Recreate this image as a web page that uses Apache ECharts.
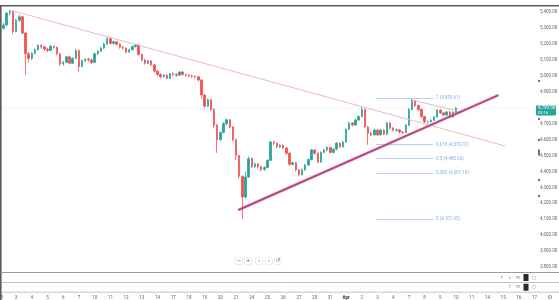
<!DOCTYPE html>
<html>
<head>
<meta charset="utf-8">
<style>
  html, body { margin: 0; padding: 0; background: #fff; }
  #chart { width: 559px; height: 300px; }
</style>
<script src="https://cdn.jsdelivr.net/npm/echarts@6/dist/echarts.min.js"></script>
</head>
<body>
<div id="chart"></div>
<script>
// time scale: one label per trading day (first one sits half off the left edge)
var days = ['28', '3', '4', '5', '6', '7', '10', '11', '12', '13', '14', '17', '18', '19', '20', '21',
  '24', '25', '26', '27', '28', '31', 'Apr', '2', '3', '4', '7', '8', '9', '10', '11', '14', '15', '16', '17']
var barsPerDay = 5
var hiddenBars = 1 // first bar of the first day is off screen
var totalBars = 169

// [open, close, low, high]
var candles = [
  [5300, 5320, 5290, 5335], [5320, 5395, 5315, 5400], [5395, 5405, 5380, 5416], [5405, 5280, 5265, 5410],
  [5280, 5350, 5275, 5358], [5350, 5372, 5340, 5385], [5372, 5270, 5262, 5378], [5270, 5140, 5005, 5275],
  [5140, 5110, 5085, 5150], [5110, 5142, 5100, 5150], [5142, 5165, 5135, 5175], [5165, 5192, 5160, 5200],
  [5192, 5183, 5170, 5200], [5183, 5168, 5160, 5190], [5168, 5160, 5150, 5178], [5160, 5186, 5155, 5195],
  [5186, 5180, 5170, 5192], [5180, 5140, 5130, 5185], [5140, 5075, 5062, 5145], [5075, 5086, 5065, 5095],
  [5086, 5120, 5080, 5128], [5120, 5080, 5072, 5125], [5080, 5110, 5075, 5118], [5110, 5160, 5105, 5170],
  [5160, 5060, 5025, 5165], [5060, 5095, 5055, 5102], [5095, 5105, 5088, 5112], [5105, 5100, 5090, 5115],
  [5100, 5085, 5075, 5110], [5085, 5140, 5080, 5146], [5140, 5155, 5132, 5162], [5155, 5175, 5150, 5182],
  [5175, 5200, 5170, 5210], [5200, 5235, 5195, 5245], [5235, 5205, 5198, 5240], [5205, 5215, 5196, 5222],
  [5215, 5200, 5192, 5220], [5200, 5180, 5172, 5205], [5180, 5175, 5165, 5188], [5175, 5150, 5142, 5180],
  [5150, 5165, 5145, 5172], [5165, 5185, 5160, 5190], [5185, 5195, 5178, 5202], [5195, 5135, 5128, 5198],
  [5135, 5100, 5092, 5140], [5100, 5080, 5072, 5108], [5080, 5095, 5075, 5102], [5095, 5070, 5062, 5100],
  [5070, 5030, 5022, 5075], [5030, 5010, 5000, 5038], [5010, 4995, 4985, 5016], [4995, 5005, 4990, 5012],
  [5005, 4985, 4978, 5010], [4985, 5015, 4980, 5020], [5015, 5010, 5000, 5022], [5010, 5005, 4995, 5018],
  [5005, 5025, 5000, 5030], [5025, 5010, 5002, 5030], [5010, 5005, 4996, 5015], [5005, 5000, 4992, 5012],
  [5000, 4998, 4988, 5008], [4998, 4995, 4985, 5004], [4995, 4975, 4965, 5000], [4975, 4880, 4860, 4980],
  [4880, 4810, 4800, 4886], [4810, 4850, 4805, 4858], [4850, 4790, 4780, 4855], [4790, 4690, 4672, 4795],
  [4690, 4600, 4517, 4700], [4600, 4645, 4590, 4652], [4645, 4700, 4640, 4710], [4700, 4725, 4690, 4732],
  [4725, 4680, 4672, 4730], [4680, 4600, 4590, 4685], [4600, 4500, 4470, 4605], [4500, 4370, 4355, 4505],
  [4370, 4240, 4101.65, 4375], [4240, 4365, 4230, 4400], [4365, 4480, 4360, 4495], [4480, 4430, 4420, 4490],
  [4430, 4448, 4422, 4455], [4448, 4430, 4420, 4452], [4430, 4412, 4402, 4436], [4412, 4425, 4405, 4432],
  [4425, 4470, 4420, 4478], [4470, 4585, 4465, 4592], [4585, 4578, 4565, 4594], [4578, 4555, 4546, 4582],
  [4555, 4565, 4548, 4572], [4565, 4548, 4540, 4570], [4548, 4515, 4505, 4552], [4515, 4445, 4435, 4520],
  [4445, 4455, 4438, 4462], [4455, 4410, 4400, 4460], [4410, 4380, 4370, 4415], [4380, 4410, 4375, 4418],
  [4410, 4440, 4405, 4448], [4440, 4475, 4435, 4482], [4475, 4535, 4470, 4542], [4535, 4515, 4505, 4540],
  [4515, 4460, 4452, 4520], [4460, 4520, 4455, 4526], [4520, 4535, 4514, 4542], [4535, 4550, 4528, 4558],
  [4550, 4520, 4512, 4555], [4520, 4540, 4515, 4548], [4540, 4578, 4535, 4585], [4578, 4555, 4548, 4582],
  [4555, 4585, 4550, 4592], [4585, 4665, 4580, 4672], [4665, 4705, 4660, 4712], [4705, 4692, 4684, 4710],
  [4692, 4723, 4688, 4730], [4723, 4745, 4718, 4752], [4745, 4790, 4740, 4812], [4790, 4680, 4672, 4795],
  [4680, 4640, 4567, 4686], [4640, 4630, 4620, 4648], [4630, 4660, 4625, 4668], [4660, 4630, 4622, 4665],
  [4630, 4660, 4625, 4668], [4660, 4635, 4628, 4665], [4635, 4705, 4630, 4712], [4705, 4673, 4665, 4710],
  [4673, 4660, 4652, 4678], [4660, 4662, 4650, 4670], [4662, 4648, 4640, 4668], [4648, 4645, 4636, 4655],
  [4645, 4690, 4640, 4698], [4690, 4790, 4685, 4798], [4790, 4845, 4785, 4859.61], [4845, 4815, 4805, 4850],
  [4815, 4790, 4780, 4820], [4790, 4745, 4738, 4795], [4745, 4712, 4705, 4750], [4712, 4712, 4702, 4720],
  [4712, 4722, 4706, 4728], [4722, 4742, 4716, 4748], [4742, 4786, 4738, 4792], [4786, 4768, 4760, 4790],
  [4768, 4755, 4748, 4772], [4755, 4774, 4750, 4780], [4774, 4742, 4735, 4778], [4742, 4772, 4738, 4778],
  [4772, 4799.56, 4768, 4803]
]
var lastPrice = 4799.56
var countdown = '03:16'

// price scale
var priceMin = 3800
var priceMax = 5400
var priceStep = 100

// small black markers sitting on the price scale
var scaleMarks = [4969, 4730, 4598, 4520, 4347, 4246]
var scaleMarkSizes = [2, 2, 2, 6, 2, 2]

// drawings, x in bar index units
var fibLevels = [1, 0.618, 0.5, 0.382, 0]
var fibPrices = [4859.61, 4570.07, 4480.63, 4391.19, 4101.65]
var fibFrom = 118.6
var fibTo = 136.7
var trendDown = [[2.1, 5414], [159.7, 4560]]
var trendUp = [[74.7, 4158], [157.5, 4880]]
var channelTop = [[130.1, 4849], [145.4, 4776]]

var W = 559
var gridLeft = 2
var gridRight = 26
var bw = (W - gridLeft - gridRight) / totalBars

function fmt(v) {
  return v.toLocaleString('en-US', { minimumFractionDigits: 2, maximumFractionDigits: 2 })
}

var categories = []
var seriesData = []
for (var i = 0; i < totalBars; i++) {
  categories.push('b' + i)
  seriesData.push(i < candles.length ? candles[i] : '-')
}

// day d starts at bar (barsPerDay - hiddenBars) + barsPerDay * (d - 1)
var firstDayX = gridLeft + bw * (0.5 + barsPerDay - hiddenBars - barsPerDay)
var lastDay = days.length - 1
var dayAxisMax = lastDay + 1 // one more (hidden under the gear)
var timeLeft = firstDayX
var timeRight = W - (firstDayX + bw * barsPerDay * dayAxisMax)
// the marks sit 6px right of the plot, expressed in bar units
var scaleMarkBar = totalBars - 0.5 + 6 / bw

var font = 'Roboto, "Open Sans", sans-serif'
var chart = echarts.init(document.getElementById('chart'))

function lineSeries(data, color, width) {
  return {
    type: 'line',
    xAxisIndex: 1,
    yAxisIndex: 0,
    data: data,
    showSymbol: false,
    silent: true,
    animation: false,
    clip: false,
    lineStyle: { color: color, width: width },
    z: 5
  }
}

var fibSeries = lineSeries([], '#a9c7f5', 1)
fibSeries.markLine = {
  symbol: 'none',
  silent: true,
  animation: false,
  lineStyle: { color: '#b3cdf5', width: 1, type: 'solid' },
  label: {
    position: 'end',
    distance: 3,
    fontSize: 4.5,
    fontFamily: font,
    color: '#86adec'
  },
  data: fibPrices.map(function (p, k) {
    return [
      { coord: [fibFrom, p] },
      { coord: [fibTo, p], label: { formatter: fibLevels[k] + ' (' + fmt(p) + ')' } }
    ]
  })
}

var upSeries = lineSeries(trendUp, '#b8467f', 2)
upSeries.lineStyle.shadowColor = 'rgba(225, 120, 170, 0.6)'
upSeries.lineStyle.shadowBlur = 2

var option = {
  animation: false,
  backgroundColor: '#fff',
  grid: [
    { left: gridLeft, right: gridRight, top: 12.3, bottom: 33, outerBoundsMode: 'none', containLabel: false },
    { left: timeLeft, right: timeRight, top: 292, height: 1, outerBoundsMode: 'none', containLabel: false }
  ],
  xAxis: [
    {
      type: 'category',
      gridIndex: 0,
      data: categories,
      boundaryGap: true,
      axisLine: { show: false },
      axisTick: { show: false },
      axisLabel: { show: false },
      splitLine: { show: false }
    },
    {
      type: 'value',
      gridIndex: 0,
      min: -0.5,
      max: totalBars - 0.5,
      show: false
    },
    {
      type: 'value',
      gridIndex: 1,
      min: 0,
      max: dayAxisMax,
      interval: 1,
      axisLine: { show: false },
      axisTick: { show: false },
      splitLine: { show: false },
      axisLabel: {
        margin: 2,
        fontSize: 4.5,
        fontFamily: font,
        color: '#666',
        showMinLabel: true,
        showMaxLabel: true,
        hideOverlap: false,
        formatter: function (v) {
          var s = days[v]
          if (!s) return ''
          return s === 'Apr' ? '{b|' + s + '}' : s
        },
        rich: { b: { fontWeight: 'bold', fontSize: 4.5, color: '#333', fontFamily: font } }
      }
    }
  ],
  yAxis: [
    {
      type: 'value',
      gridIndex: 0,
      position: 'right',
      min: priceMin,
      max: priceMax,
      interval: priceStep,
      axisLine: { show: false },
      axisTick: { show: false },
      splitLine: { show: false },
      axisLabel: {
        margin: 7,
        align: 'left',
        fontSize: 4.5,
        fontFamily: font,
        color: '#666',
        formatter: function (v) {
          // the price tag hides the tick label it sits on
          if (Math.abs(v - lastPrice) < 30) return ''
          return fmt(v)
        }
      }
    },
    { type: 'value', gridIndex: 1, show: false }
  ],
  series: [
    {
      type: 'candlestick',
      xAxisIndex: 0,
      yAxisIndex: 0,
      data: seriesData,
      barWidth: '62%',
      clip: false,
      itemStyle: {
        color: '#26a69a',
        color0: '#ef5350',
        borderColor: '#26a69a',
        borderColor0: '#ef5350',
        borderWidth: 0.8
      },
      markLine: {
        symbol: 'none',
        silent: true,
        animation: false,
        data: [{ yAxis: lastPrice }],
        lineStyle: { color: '#26a69a', type: [1, 2], width: 1, opacity: 0.2 },
        label: { show: false }
      },
      z: 3
    },
    lineSeries(trendDown, '#efb7c6', 1),
    lineSeries(channelTop, '#e6b8c2', 1),
    upSeries,
    fibSeries,
    {
      type: 'scatter',
      xAxisIndex: 1,
      yAxisIndex: 0,
      clip: false,
      silent: true,
      symbol: 'rect',
      data: scaleMarks.map(function (p, k) {
        return { value: [scaleMarkBar, p], symbolSize: [1.6, scaleMarkSizes[k]] }
      }),
      itemStyle: { color: '#1e1e1e' },
      z: 6
    }
  ],
  graphic: [
    // frame
    { type: 'rect', shape: { x: 0, y: 5, width: W, height: 1.6 }, style: { fill: '#5a5a5a' }, silent: true },
    { type: 'rect', shape: { x: 0, y: 5, width: 1.6, height: 295 }, style: { fill: '#5a5a5a' }, silent: true },
    // pane separators
    { type: 'line', shape: { x1: 2, y1: 272.5, x2: W, y2: 272.5 }, style: { stroke: '#9a9a9a', lineWidth: 1.2 }, silent: true },
    { type: 'line', shape: { x1: 2, y1: 282.5, x2: W, y2: 282.5 }, style: { stroke: '#c4c4c4', lineWidth: 1 }, silent: true },
    { type: 'line', shape: { x1: 2, y1: 292.2, x2: W, y2: 292.2 }, style: { stroke: '#c4c4c4', lineWidth: 1 }, silent: true }
  ]
}

// zoom / scroll buttons under the chart
var navGlyphs = ['\u2212', '+', '\u2039', '\u203a', '\u21ba']
var navX = [239, 248, 259, 269, 278]
navGlyphs.forEach(function (g, k) {
  option.graphic.push({
    type: 'group', x: navX[k], y: 261, silent: true,
    children: [
      { type: 'rect', shape: { x: -3.5, y: -3.5, width: 7, height: 7, r: 1 }, style: { fill: '#fff', stroke: '#dcdcdc', lineWidth: 0.6 } },
      { type: 'text', style: { text: g, x: 0, y: 0, fontSize: 5, fill: '#555', align: 'center', verticalAlign: 'middle', fontFamily: 'DejaVu Sans' } }
    ]
  })
})

// pane buttons on the right
function paneButtons(y, glyphs, xs) {
  glyphs.forEach(function (g, k) {
    if (g === 'box') {
      option.graphic.push({ type: 'rect', shape: { x: xs[k] - 2.5, y: y - 3.5, width: 5, height: 7, r: 0.5 }, style: { fill: '#2a2a2a' }, silent: true })
    } else {
      option.graphic.push({ type: 'text', silent: true, style: { text: g, x: xs[k], y: y, fontSize: 4.5, fill: '#777', align: 'center', verticalAlign: 'middle', fontFamily: 'DejaVu Sans' } })
    }
  })
}
paneButtons(277.5, ['\u2191', '\u2193', '\u229f', 'box', '\u25a2'], [502, 510, 518, 526, 534])
paneButtons(287.3, ['\u2191', '\u229f', 'box', '\u25a2'], [510, 518, 526, 534])
option.graphic.push({ type: 'text', silent: true, style: { text: '\u2699', x: 550, y: 297, fontSize: 6, fill: '#888', align: 'center', verticalAlign: 'middle', fontFamily: 'DejaVu Sans' } })

chart.setOption(option)

// last price tag on the price scale, placed from the axis scale
var py = chart.convertToPixel({ yAxisIndex: 0 }, lastPrice)
var tagX = W - gridRight + 3
chart.setOption({
  graphic: option.graphic.concat([{
    type: 'group', x: tagX, y: py, z: 100, silent: true,
    children: [
      { type: 'rect', shape: { x: 0, y: -2.5, width: 20, height: 10, r: 0.8 }, style: { fill: '#26a69a' } },
      { type: 'text', style: { text: fmt(lastPrice), x: 2, y: 0.4, fontSize: 4.5, fill: '#fff', verticalAlign: 'middle', fontFamily: font } },
      { type: 'text', style: { text: countdown, x: 2, y: 4.9, fontSize: 4, fill: '#fff', verticalAlign: 'middle', fontFamily: font } }
    ]
  }])
})
</script>
</body>
</html>
